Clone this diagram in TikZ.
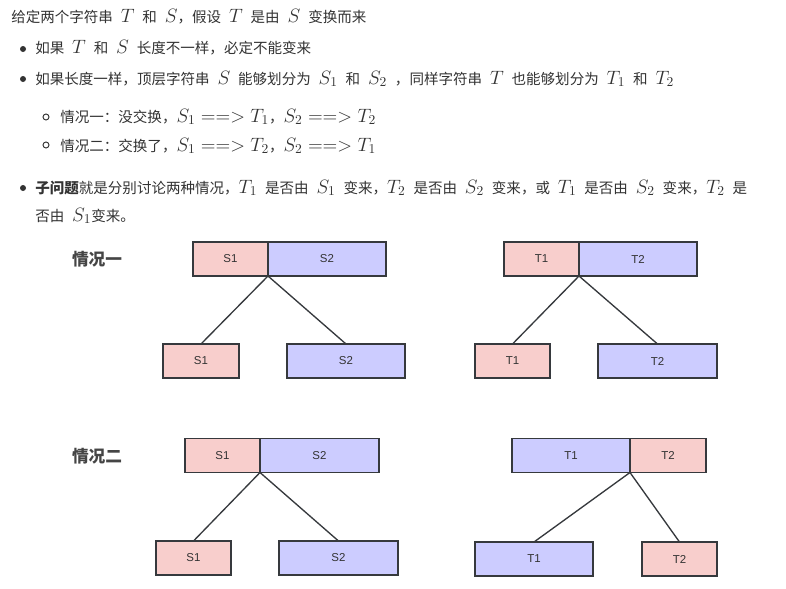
\documentclass[tikz,border=0pt]{standalone}
\usepackage{fix-cm}
\usepackage{fontspec}
\setmainfont{Noto Sans CJK SC}
\setsansfont{Liberation Sans}
\usetikzlibrary{positioning}
\definecolor{txtgray}{HTML}{333333}
\definecolor{lblgray}{HTML}{454545}
\definecolor{edgegray}{HTML}{36393D}
\definecolor{pinkfill}{HTML}{F8CECC}
\definecolor{bluefill}{HTML}{CCCCFF}
\newcommand{\mth}[1]{{\fontsize{14.5pt}{16pt}\selectfont$#1$}}
\newcommand{\widesp}{\spaceskip 5.9pt plus 1pt\relax}

\begin{document}
\begin{tikzpicture}[x=0.75pt,y=-0.75pt,
        txt/.style={anchor=base west,inner sep=0pt,text=txtgray,
          font=\fontsize{10.9pt}{14pt}\selectfont\widesp},
        dot/.style={circle,fill=txtgray,inner sep=0pt,minimum size=4.5pt},
        ring/.style={circle,draw=txtgray,line width=0.7pt,inner sep=0pt,minimum size=4.5pt},
        lbl/.style={text=lblgray,font=\fontsize{12.5pt}{14pt}\selectfont\bfseries},
        bx/.style={draw=edgegray,line width=1.1pt,outer sep=0pt,inner sep=0pt,
          minimum height=25.5pt,text=txtgray,font=\sffamily\fontsize{8.6pt}{10pt}\selectfont},
        pk/.style={bx,fill=pinkfill,minimum width=#1*0.75pt},
        bl/.style={bx,fill=bluefill,minimum width=#1*0.75pt},
        ln/.style={draw=edgegray,line width=1pt}]
  \useasboundingbox[fill=white] (0,0) rectangle (786,589);

  % text above the picture
  \node[txt] (l0) at (11,22) {给定两个字符串 \mth{T} 和 \mth{S}，假设 \mth{T} 是由 \mth{S} 变换而来};
  \node[dot] (d1) at (23,49) {};
  \node[txt] (l1) at (35,53) {如果 \mth{T} 和 \mth{S} 长度不一样，必定不能变来};
  \node[dot] (d2) at (23,79) {};
  \node[txt] (l2) at (35,84) {如果长度一样，顶层字符串 \mth{S} 能够划分为 \mth{S_1} 和 \mth{S_2} ，同样字符串 \mth{T} 也能够划分为 \mth{T_1} 和 \mth{T_2}};
  \node[ring] (c1) at (46,117) {};
  \node[txt] (l3) at (60,122) {情况一：没交换，\mth{S_1 ==> T_1}，\mth{S_2 ==> T_2}};
  \node[ring] (c2) at (46,145) {};
  \node[txt] (l4) at (60,151) {情况二：交换了，\mth{S_1 ==> T_2}，\mth{S_2 ==> T_1}};
  \node[dot] (d3) at (23,188) {};
  \node[txt] (l5) at (35,193) {\textbf{子问题}就是分别讨论两种情况，\mth{T_1} 是否由 \mth{S_1} 变来，\mth{T_2} 是否由 \mth{S_2} 变来，或 \mth{T_1} 是否由 \mth{S_2} 变来，\mth{T_2} 是};
  \node[txt] (l6) at (35,221) {否由 \mth{S_1}变来。};

  % case one
  \node[lbl] (case1) at (97,259) {情况一};
  \node[pk=75] (sa1) at (230.5,259) {S1};
  \node[bl=118,right=0pt of sa1] (sa2) {S2};
  \node[pk=76] (sb1) at (201,361) {S1};
  \node[bl=118] (sb2) at (346,361) {S2};
  \draw[ln] (sa1.south east) -- (sb1.north);
  \draw[ln] (sa1.south east) -- (sb2.north);

  \node[pk=75] (ta1) at (541.5,259) {T1};
  \node[bl=118,right=0pt of ta1] (ta2) {T2};
  \node[pk=75] (tb1) at (512.5,361) {T1};
  \node[bl=119] (tb2) at (657.5,361) {T2};
  \draw[ln] (ta1.south east) -- (tb1.north);
  \draw[ln] (ta1.south east) -- (tb2.north);

  % case two
  \node[lbl] (case2) at (97,456) {情况二};
  \node[pk=75] (sc1) at (222.5,455.5) {S1};
  \node[bl=119,right=0pt of sc1] (sc2) {S2};
  \node[pk=75] (sd1) at (193.5,558) {S1};
  \node[bl=119] (sd2) at (338.5,558) {S2};
  \draw[ln] (sc1.south east) -- (sd1.north);
  \draw[ln] (sc1.south east) -- (sd2.north);

  \node[bl=118] (tc1) at (571,455.5) {T1};
  \node[pk=76,right=0pt of tc1] (tc2) {T2};
  \node[bl=118] (td1) at (534,559) {T1};
  \node[pk=75] (td2) at (679.5,559) {T2};
  \draw[ln] (tc1.south east) -- (td1.north);
  \draw[ln] (tc1.south east) -- (td2.north);
\end{tikzpicture}
\end{document}
